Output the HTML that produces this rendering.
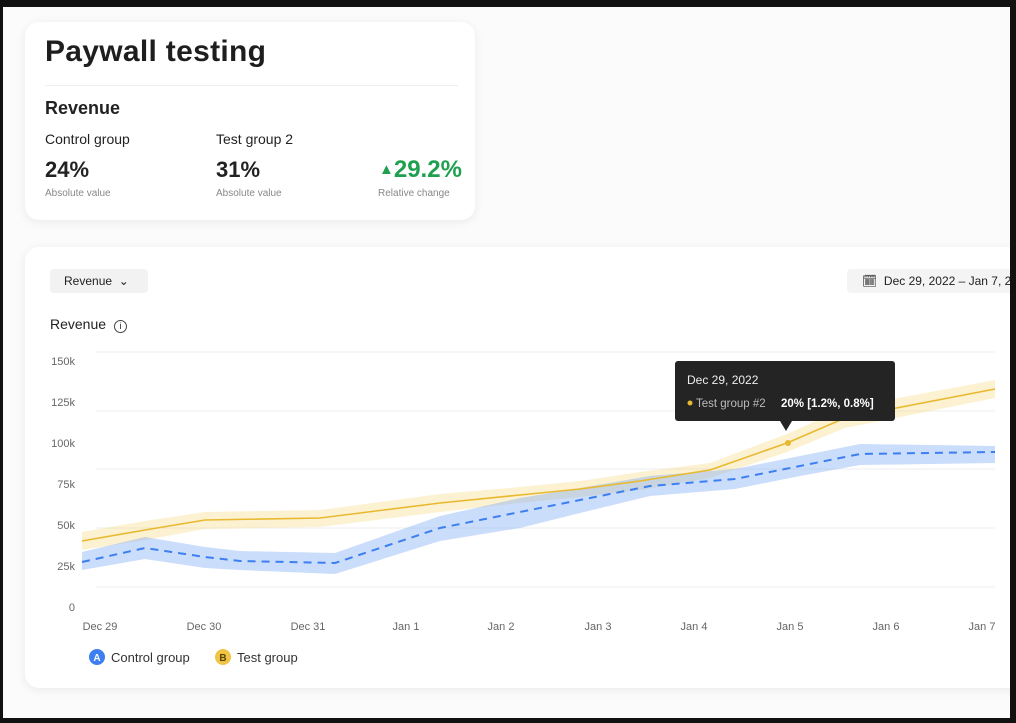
<!DOCTYPE html>
<html><head><style>
body{margin:0;width:1016px;height:723px;background:#111;overflow:hidden;font-family:"Liberation Sans",sans-serif;position:relative}
.bg{position:absolute;left:3px;top:7px;width:1007px;height:711px;background:#fbfbfb}
.card{position:absolute;background:#fff;border-radius:14px;box-shadow:0 2px 10px rgba(0,0,0,0.07)}
.t{position:absolute;white-space:nowrap;color:#222}
</style></head><body>
<div class="bg"></div>
<div class="card" style="left:25px;top:22px;width:450px;height:198px"></div>
<div class="t" style="left:45px;top:35px;font-size:30px;font-weight:bold;color:#1e1e1e;letter-spacing:0.3px">Paywall testing</div>
<div style="position:absolute;left:45px;top:85px;width:413px;height:1px;background:#eee"></div>
<div class="t" style="left:45px;top:98px;font-size:18px;font-weight:bold">Revenue</div>
<div class="t" style="left:45px;top:131px;font-size:14px">Control group</div>
<div class="t" style="left:216px;top:131px;font-size:14px">Test group 2</div>
<div class="t" style="left:45px;top:157px;font-size:22px;font-weight:bold">24%</div>
<div class="t" style="left:216px;top:157px;font-size:22px;font-weight:bold">31%</div>
<div class="t" style="left:379px;top:156px;font-size:24px;font-weight:bold;color:#1fa050"><span style="font-size:15px;position:relative;top:-3px">▲</span>29.2%</div>
<div class="t" style="left:45px;top:188px;font-size:10px;color:#888">Absolute value</div>
<div class="t" style="left:216px;top:188px;font-size:10px;color:#888">Absolute value</div>
<div class="t" style="left:378px;top:188px;font-size:10px;color:#888">Relative change</div>

<div class="card" style="left:25px;top:247px;width:1000px;height:441px"></div>
<div style="position:absolute;left:50px;top:269px;width:98px;height:24px;background:#f2f2f2;border-radius:4px"></div>
<div class="t" style="left:64px;top:274px;font-size:12px">Revenue &nbsp;⌄</div>
<div style="position:absolute;left:847px;top:269px;width:170px;height:24px;background:#f4f4f4;border-radius:4px"></div>
<div class="t" style="left:862px;top:274px;font-size:12px">🗓︎&nbsp; Dec 29, 2022 – Jan 7, 2023</div>
<div class="t" style="left:50px;top:316px;font-size:14px">Revenue <span style="display:inline-block;width:11px;height:11px;border:1.3px solid #444;border-radius:50%;font-size:9px;text-align:center;line-height:11px;margin-left:4px">i</span></div>

<svg style="position:absolute;left:0;top:0" width="1016" height="723">
<g stroke="#eee" stroke-width="1">
<line x1="96" x2="995" y1="352" y2="352"/><line x1="96" x2="995" y1="411" y2="411"/><line x1="96" x2="995" y1="469" y2="469"/><line x1="96" x2="995" y1="528" y2="528"/><line x1="96" x2="995" y1="587" y2="587"/></g>
<g font-size="11" fill="#666" text-anchor="end">
<text x="75" y="365">150k</text><text x="75" y="406">125k</text><text x="75" y="447">100k</text><text x="75" y="488">75k</text><text x="75" y="529">50k</text><text x="75" y="570">25k</text><text x="75" y="611">0</text></g>
<g font-size="11" fill="#666" text-anchor="middle">
<text x="100" y="630">Dec 29</text><text x="204" y="630">Dec 30</text><text x="308" y="630">Dec 31</text><text x="406" y="630">Jan 1</text><text x="501" y="630">Jan 2</text><text x="598" y="630">Jan 3</text><text x="694" y="630">Jan 4</text><text x="790" y="630">Jan 5</text><text x="886" y="630">Jan 6</text><text x="982" y="630">Jan 7</text></g>
<polygon fill="#f5d77a" opacity="0.35" points="82,532 145,521 205,512 320,510 440,494 520,487 580,481 640,472 710,463 787,434 845,408 995,380 995,398 845,428 787,452 710,478 640,490 580,497 520,503 440,512 320,527 205,529 145,540 82,550"/>
<polygon fill="#7aaaf5" opacity="0.4" points="82,552 145,537 205,547 240,551 335,553 440,516 520,498 580,488 650,476 735,469 800,456 860,444 995,446 995,463 860,465 800,476 735,489 650,496 580,513 520,528 440,541 335,574 240,570 205,568 145,559 82,570"/>
<polyline fill="none" stroke="#e8b930" stroke-width="1.6" points="82,541 145,530 205,520 320,518 440,503 520,495 580,489 640,481 710,470 787,443 845,418 995,389"/>
<polyline fill="none" stroke="#3d7ff0" stroke-width="2" stroke-dasharray="8,6" points="82,562 145,548 205,557 240,561 335,563 440,528 520,512 580,500 650,486 735,479 800,466 860,454 995,452"/>
<circle cx="788" cy="443" r="3" fill="#e8b930"/>
<rect x="675" y="361" width="220" height="60" rx="3" fill="#242424"/>
<polygon points="780,421 792,421 786,431" fill="#242424"/>
<text x="687" y="384" font-size="12" fill="#eee">Dec 29, 2022</text>
<circle cx="690" cy="403" r="2.5" fill="#e8b930"/>
<text x="696" y="407" font-size="11.5" fill="#bbb">Test group #2</text>
<text x="781" y="407" font-size="11.5" fill="#fff" font-weight="bold">20% [1.2%, 0.8%]</text>
<circle cx="97" cy="657" r="8" fill="#3d7ff0"/><text x="97" y="661" font-size="10" fill="#fff" text-anchor="middle" font-weight="bold">A</text>
<text x="111" y="662" font-size="13" fill="#333">Control group</text>
<circle cx="223" cy="657" r="8" fill="#f0c445"/><text x="223" y="661" font-size="10" fill="#5a4500" text-anchor="middle" font-weight="bold">B</text>
<text x="237" y="662" font-size="13" fill="#333">Test group</text>
</svg>
<div style="position:absolute;left:1010px;top:0;width:6px;height:723px;background:#111"></div>
</body></html>
